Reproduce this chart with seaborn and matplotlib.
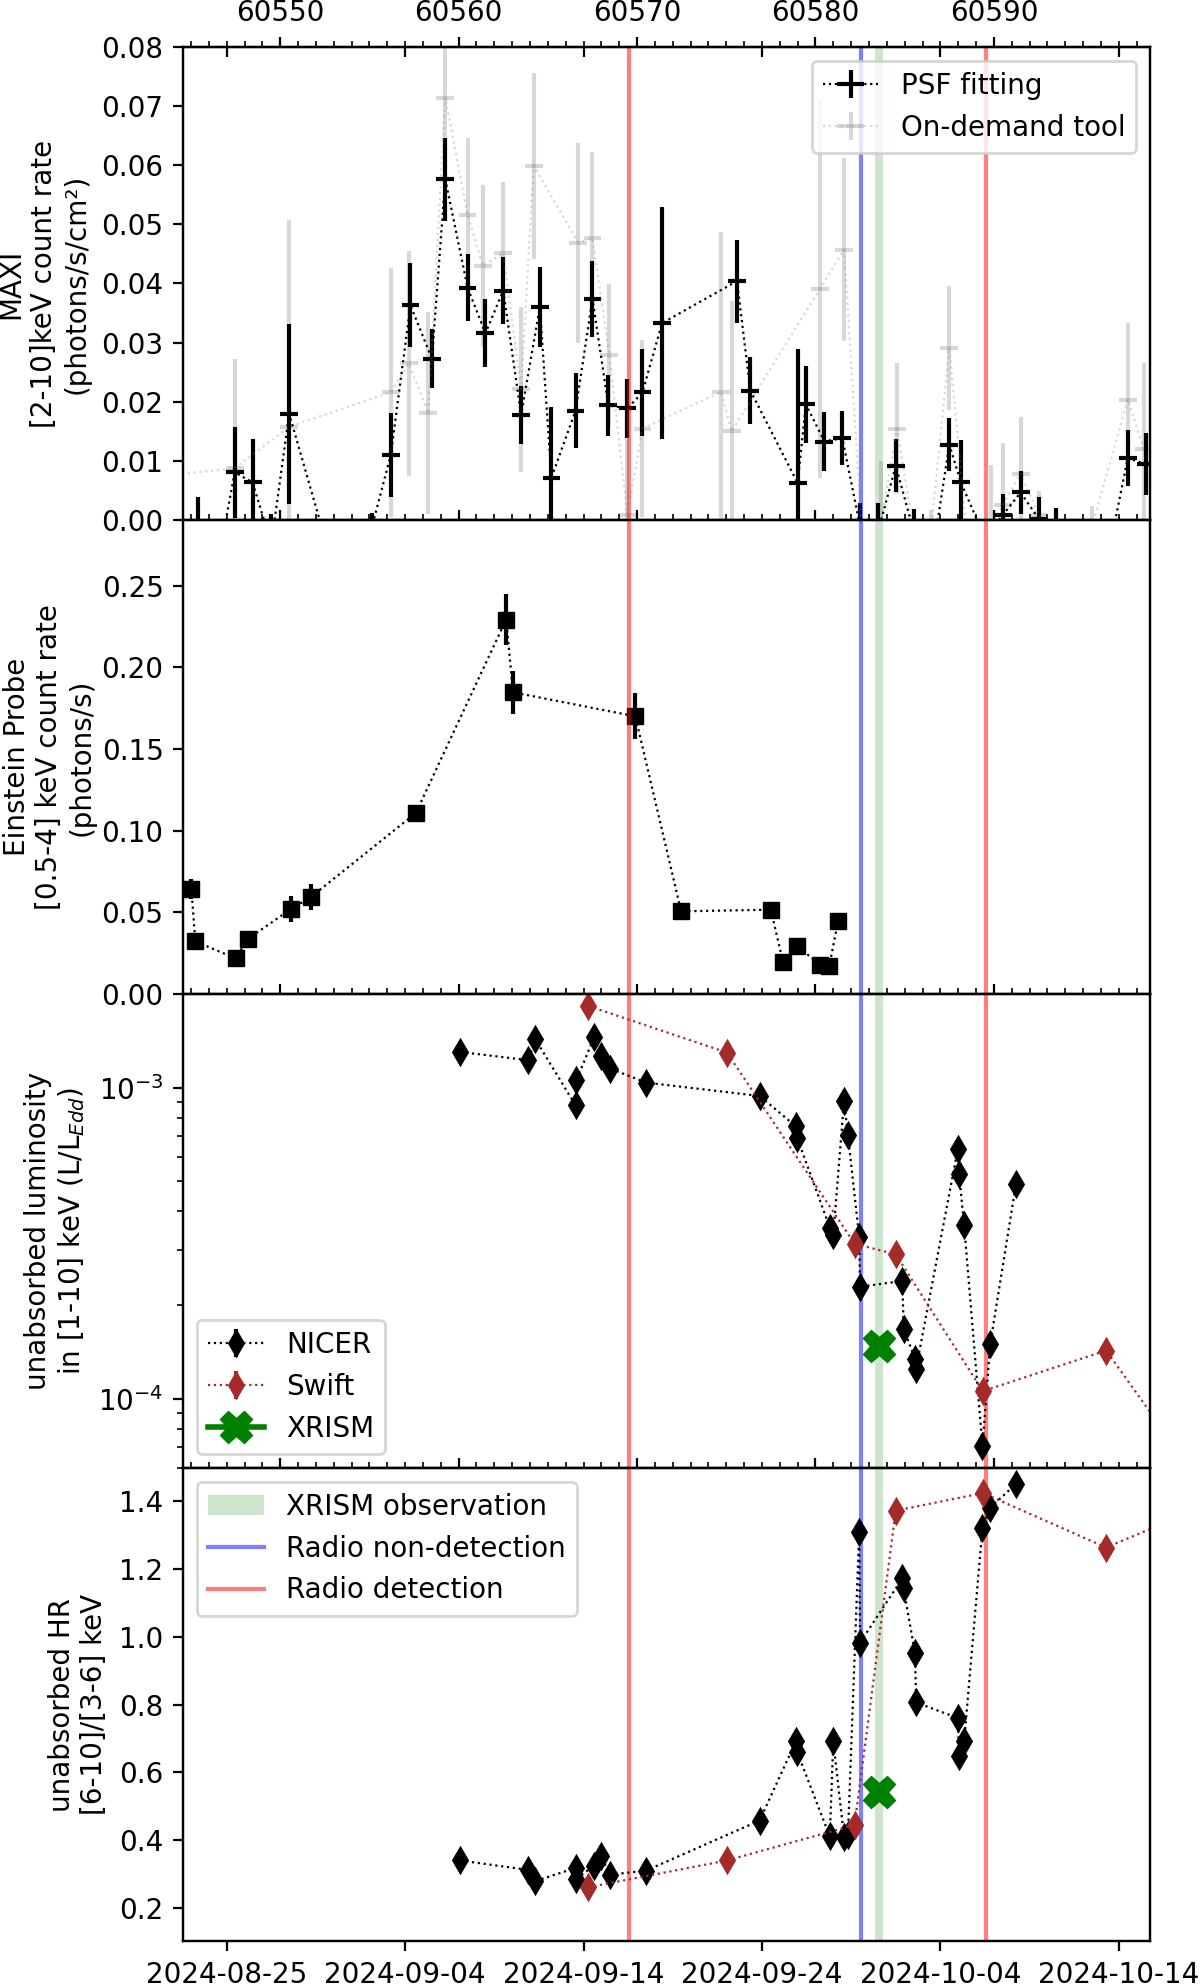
import datetime as dt
import numpy as np
import pandas as pd
import matplotlib
matplotlib.use("Agg")
import matplotlib.pyplot as plt
import seaborn as sns
from matplotlib.ticker import MultipleLocator, FixedLocator, FixedFormatter

# ---- MAXI, PSF fitting (MJD, rate, error) ----
psf_t = [60545.4, 60546.45, 60547.45, 60548.45, 60549.5, 60550.5, 60552.5, 60553.5,
         60554.5, 60555.15, 60556.2, 60557.3, 60558.5, 60559.25, 60560.5, 60561.5,
         60562.5, 60563.5, 60564.55, 60565.2, 60566.55, 60567.5, 60568.39, 60569.46,
         60570.3, 60571.4, 60575.6, 60576.35, 60579.0, 60579.46, 60580.5, 60581.5,
         60582.5, 60583.5, 60584.5, 60585.5, 60586.5, 60587.5, 60588.15, 60589.5,
         60590.5, 60591.5, 60592.5, 60593.5, 60594.5, 60595.5, 60596.5, 60597.5, 60598.5]
psf_rate = [-0.003, -0.008, 0.0081, 0.0064, -0.004, 0.018, -0.003, -0.006,
            -0.004, -0.001, 0.0111, 0.0363, 0.0273, 0.0576, 0.0393, 0.0316,
            0.0388, 0.0178, 0.036, 0.0072, 0.0185, 0.0374, 0.0194, 0.0189,
            0.0216, 0.0333, 0.0404, 0.0219, 0.0063, 0.0196, 0.0133, 0.0139,
            -0.001, -0.002, 0.0092, -0.0018, -0.007, 0.0128, 0.0064, -0.003,
            0.0009, 0.0047, 0.0003, -0.002, -0.005, -0.004, -0.0045, 0.0105, 0.0095]
psf_err = [0.007, 0.006, 0.0077, 0.0074, 0.005, 0.0152, 0.002, 0.004,
           0.003, 0.0022, 0.0071, 0.0071, 0.005, 0.007, 0.0057, 0.0057,
           0.0057, 0.0049, 0.0068, 0.012, 0.0063, 0.0064, 0.0051, 0.005,
           0.0074, 0.0196, 0.007, 0.0056, 0.0226, 0.0065, 0.005, 0.0046,
           0.004, 0.005, 0.0045, 0.0037, 0.005, 0.0044, 0.0072, 0.002,
           0.0036, 0.0036, 0.0037, 0.004, 0.003, 0.002, 0.003, 0.0047, 0.0053]

# ---- MAXI, on-demand tool ----
od_t = [60543.5, 60547.45, 60550.5, 60556.2, 60557.2, 60558.3, 60559.25, 60560.5,
        60561.35, 60562.5, 60563.5, 60564.2, 60566.7, 60567.5, 60568.45, 60569.46,
        60570.3, 60574.7, 60575.3, 60580.25, 60581.6, 60582.6, 60583.65, 60584.55,
        60585.6, 60586.5, 60587.5, 60588.5, 60589.85, 60590.5, 60591.5, 60592.5,
        60593.5, 60595.5, 60597.5, 60598.4]
od_rate = [0.0075, 0.0088, 0.0158, 0.0216, 0.0265, 0.0181, 0.0714, 0.0516,
           0.043, 0.0451, 0.0221, 0.0599, 0.0469, 0.0476, 0.0279, 0.0009,
           0.0155, 0.0217, 0.015, 0.0391, 0.0457, -0.002, -0.001, 0.0155,
           -0.003, -0.001, 0.0291, -0.003, -0.001, 0.0026, 0.0079, 0.0009,
           -0.003, -0.001, 0.0204, 0.012]
od_err = [0.01, 0.0184, 0.035, 0.021, 0.019, 0.0171, 0.009, 0.013,
          0.0137, 0.012, 0.014, 0.0157, 0.0169, 0.0146, 0.012, 0.0128,
          0.015, 0.027, 0.022, 0.032, 0.0155, 0.002, 0.011, 0.011,
          0.003, 0.0028, 0.0104, 0.003, 0.0103, 0.0104, 0.0096, 0.0041,
          0.003, 0.0035, 0.013, 0.0146]

# ---- Einstein Probe ----
ep_t = [60545.02, 60545.24, 60547.5, 60548.18, 60550.6, 60551.7, 60557.6, 60562.66,
        60563.05, 60569.9, 60572.47, 60577.5, 60578.18, 60578.97, 60580.26, 60580.77, 60581.27]
ep_rate = [0.0643, 0.0322, 0.0218, 0.0337, 0.052, 0.0592, 0.1108, 0.2292,
           0.1847, 0.170, 0.0506, 0.0516, 0.0194, 0.0292, 0.018, 0.0169, 0.0449]
ep_err = [0.006, 0.003, 0.002, 0.004, 0.008, 0.008, 0.003, 0.0155,
          0.013, 0.014, 0.002, 0.003, 0.002, 0.002, 0.002, 0.002, 0.002]

# ---- NICER ----
nicer_t = [60560.09, 60563.90, 60564.30, 60566.55, 60566.60, 60567.60, 60567.96, 60568.50,
           60570.50, 60576.87, 60578.90, 60578.97, 60580.80, 60581.00, 60581.60, 60581.82,
           60582.45, 60582.50, 60584.87, 60584.94, 60585.58, 60585.64, 60587.98, 60588.05,
           60588.33, 60589.36, 60589.79, 60591.24]
nicer_lum = [1.302e-3, 1.225e-3, 1.430e-3, 0.877e-3, 1.056e-3, 1.456e-3, 1.262e-3, 1.151e-3,
             1.038e-3, 0.940e-3, 0.751e-3, 0.691e-3, 0.355e-3, 0.337e-3, 0.906e-3, 0.703e-3,
             0.330e-3, 0.229e-3, 0.239e-3, 0.168e-3, 0.1345e-3, 0.125e-3, 0.637e-3, 0.526e-3,
             0.361e-3, 0.0703e-3, 0.1496e-3, 0.491e-3]
nicer_hr = [0.339, 0.311, 0.278, 0.317, 0.285, 0.324, 0.351, 0.297,
            0.309, 0.457, 0.691, 0.660, 0.410, 0.691, 0.408, 0.413,
            1.311, 0.983, 1.173, 1.143, 0.951, 0.806, 0.760, 0.648,
            0.691, 1.323, 1.382, 1.452]

# ---- Swift ----
swift_t = [60567.27, 60575.04, 60582.19, 60584.50, 60589.38, 60596.29, 60600.00]
swift_lum = [1.83e-3, 1.296e-3, 0.315e-3, 0.291e-3, 0.1057e-3, 0.1428e-3, 0.072e-3]
swift_hr = [0.260, 0.339, 0.444, 1.373, 1.425, 1.264, 1.346]

# ---- XRISM ----
xrism_t = [60583.54]
xrism_lum = [1.474e-4]
xrism_hr = [0.541]

# ---- epochs ----
xrism_obs = (60583.35, 60583.78)
radio_non_det = [60582.53]
radio_det = [60569.57, 60589.53]

date_ticks = ["2024-08-25", "2024-09-04", "2024-09-14", "2024-09-24", "2024-10-04", "2024-10-14"]
mjd0 = dt.date(1858, 11, 17)
date_mjd = [(dt.date.fromisoformat(d) - mjd0).days for d in date_ticks]
xlim = (60544.55, 60598.76)

fig, axes = plt.subplots(4, 1, figsize=(6, 9.92), dpi=200, sharex=True)
fig.subplots_adjust(left=0.1525, right=0.9585, top=0.9765, bottom=0.0215, hspace=0)
ax1, ax2, ax3, ax4 = axes

# MAXI
od = ax1.errorbar(od_t, od_rate, xerr=0.5, yerr=od_err, fmt=":", color="gray", alpha=0.3,
                  lw=0.8, elinewidth=1.5, label="On-demand tool")
psf = ax1.errorbar(psf_t, psf_rate, xerr=0.5, yerr=psf_err, fmt=":", color="k",
                   lw=0.8, elinewidth=1.5, label="PSF fitting")
ax1.set_ylim(0, 0.08)
ax1.set_ylabel("MAXI\n[2-10]keV count rate\n(photons/s/cm²)")

# Einstein Probe
ep = pd.DataFrame({"t": ep_t, "rate": ep_rate})
ax2.errorbar(ep_t, ep_rate, yerr=ep_err, fmt="none", ecolor="k", elinewidth=1.5)
sns.lineplot(data=ep, x="t", y="rate", ax=ax2, sort=False, estimator=None, color="k",
             marker="s", markersize=6, markeredgecolor="k", markeredgewidth=0.5,
             linestyle=":", lw=0.8, legend=False)
ax2.set_ylim(0, 0.29)
ax2.set_ylabel("Einstein Probe\n[0.5-4] keV count rate\n(photons/s)", labelpad=2)
ax2.set_xlabel("")

# luminosity
h_n = ax3.errorbar(nicer_t, nicer_lum, yerr=np.zeros(len(nicer_t)), fmt="d:", color="k",
                   ms=6, lw=0.8, elinewidth=1.5, label="NICER")
h_s = ax3.errorbar(swift_t, swift_lum, yerr=np.zeros(len(swift_t)), fmt="d:", color="brown",
                   ms=6, lw=0.8, elinewidth=1.5, label="Swift")
h_x = ax3.errorbar(xrism_t, xrism_lum, xerr=0.2, fmt="X-", color="green", ms=11, lw=2,
                   elinewidth=1.5, label="XRISM")
ax3.set_yscale("log")
ax3.set_ylim(6.0e-5, 2.0e-3)
ax3.set_ylabel("unabsorbed luminosity\nin [1-10] keV (L/L$_{Edd}$)")

# hardness ratio
ax4.errorbar(nicer_t, nicer_hr, yerr=np.zeros(len(nicer_t)), fmt="d:", color="k",
             ms=6, lw=0.8, elinewidth=1.5)
ax4.errorbar(swift_t, swift_hr, yerr=np.zeros(len(swift_t)), fmt="d:", color="brown",
             ms=6, lw=0.8, elinewidth=1.5)
ax4.errorbar(xrism_t, xrism_hr, xerr=0.2, fmt="X-", color="green", ms=11, lw=2, elinewidth=1.5)
ax4.set_ylim(0.1, 1.5)
ax4.set_ylabel("unabsorbed HR\n[6-10]/[3-6] keV")

for i, ax in enumerate(axes):
    ax.axvspan(*xrism_obs, color="green", alpha=0.2, lw=0,
               label="XRISM observation" if i == 3 else None)
    for t in radio_non_det:
        ax.axvline(t, color="blue", alpha=0.5, lw=1.5,
                   label="Radio non-detection" if i == 3 else None)
    for j, t in enumerate(radio_det):
        ax.axvline(t, color="red", alpha=0.5, lw=1.5,
                   label="Radio detection" if (i == 3 and j == 0) else None)

ax1.legend(handles=[psf, od], loc="upper right")
ax3.legend(handles=[h_n, h_s, h_x], loc="lower left")
ax4.legend(loc="upper left")

ax4.set_xlim(*xlim)
ax4.xaxis.set_major_locator(FixedLocator(date_mjd))
ax4.xaxis.set_major_formatter(FixedFormatter(date_ticks))

# top axis with MJD
for i, ax in enumerate(axes):
    tw = ax.twiny()
    tw.set_xlim(*xlim)
    tw.xaxis.set_major_locator(MultipleLocator(10))
    tw.xaxis.set_minor_locator(MultipleLocator(1))
    if i > 0:
        tw.tick_params(labeltop=False)

sec = ax1.secondary_xaxis("top")
sec.set_xticks(date_mjd)
sec.tick_params(direction="in", labeltop=False)

fig.savefig("out.png", dpi=200)
